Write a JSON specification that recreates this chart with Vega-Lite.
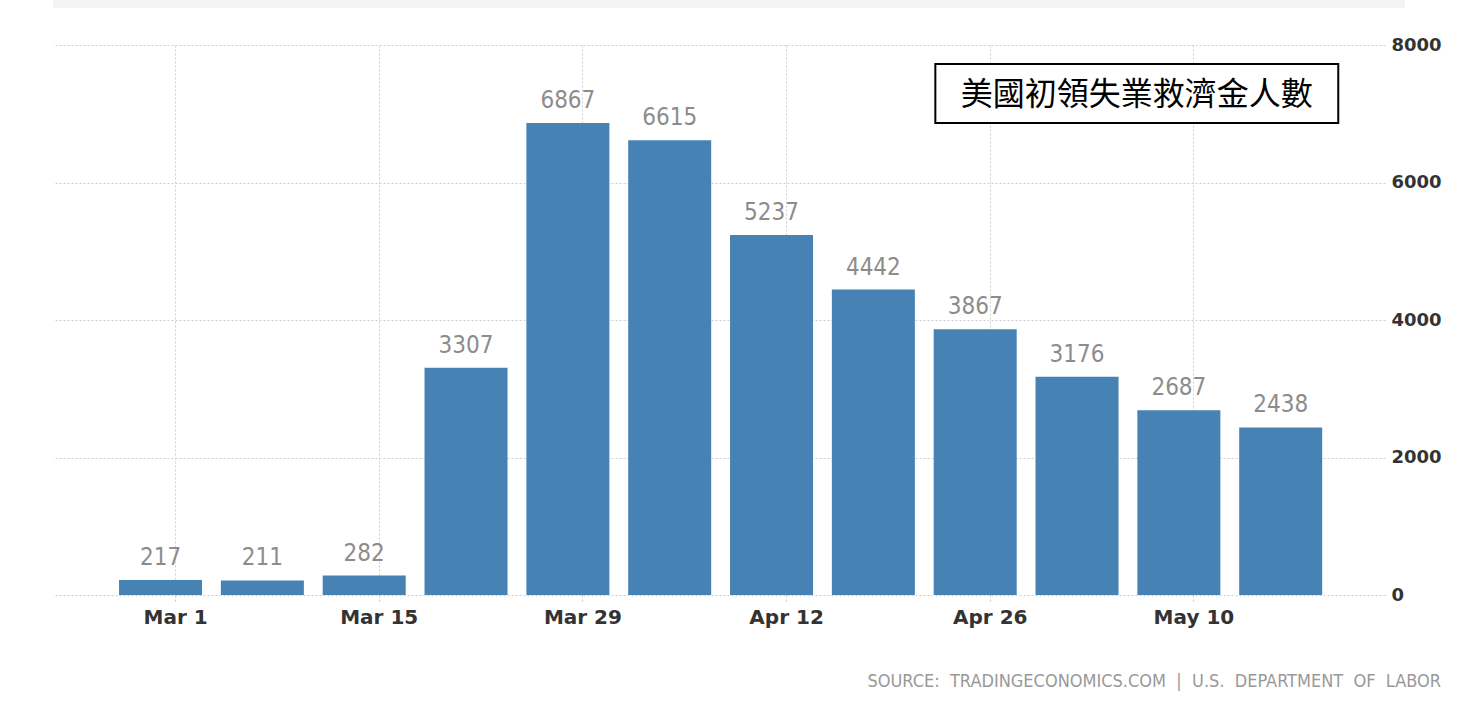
{
  "$schema": "https://vega.github.io/schema/vega-lite/v6.json",
  "width": 1332,
  "height": 550,
  "autosize": {"type": "none"},
  "padding": {"left": 53, "top": 45, "right": 77, "bottom": 114},
  "background": "white",
  "config": {"view": {"stroke": null}},
  "title": {
    "text": "SOURCE:\u00a0 TRADINGECONOMICS.COM\u00a0 |\u00a0 U.S.\u00a0 DEPARTMENT\u00a0 OF\u00a0 LABOR",
    "orient": "bottom",
    "anchor": "end",
    "frame": "bounds",
    "font": "DejaVu Sans Condensed",
    "fontSize": 18,
    "fontWeight": "normal",
    "color": "#999999",
    "offset": 46
  },
  "datasets": {
    "claims": [
      {"week": "2020-02-29T00:00:00Z", "claims": 217},
      {"week": "2020-03-07T00:00:00Z", "claims": 211},
      {"week": "2020-03-14T00:00:00Z", "claims": 282},
      {"week": "2020-03-21T00:00:00Z", "claims": 3307},
      {"week": "2020-03-28T00:00:00Z", "claims": 6867},
      {"week": "2020-04-04T00:00:00Z", "claims": 6615},
      {"week": "2020-04-11T00:00:00Z", "claims": 5237},
      {"week": "2020-04-18T00:00:00Z", "claims": 4442},
      {"week": "2020-04-25T00:00:00Z", "claims": 3867},
      {"week": "2020-05-02T00:00:00Z", "claims": 3176},
      {"week": "2020-05-09T00:00:00Z", "claims": 2687},
      {"week": "2020-05-16T00:00:00Z", "claims": 2438}
    ],
    "box": [
      {"bx": "2020-04-22T06:15:00Z", "bx2": "2020-05-19T23:00:00Z", "by": 7724, "by2": 6865, "lx": "2020-05-06T02:40:00Z", "ly": 7280, "label": "美國初領失業救濟金人數"}
    ],
    "band": [
      {"gx": "2020-02-21T14:35:00Z", "gx2": "2020-05-24T12:45:00Z", "gy": 8655, "gy2": 8538}
    ]
  },
  "layer": [
    {
      "data": {"name": "claims"},
      "mark": {"type": "bar", "width": 83, "color": "#4682b4"},
      "encoding": {
        "x": {
          "field": "week",
          "type": "temporal",
          "scale": {
            "type": "utc",
            "domain": [1582325400000, 1590177000000]
          },
          "axis": {
            "title": null,
            "values": [1583020800000, 1584230400000, 1585440000000, 1586649600000, 1587859200000, 1589068800000],
            "format": "%b %-d",
            "grid": true,
            "gridColor": "#cfcfcf",
            "gridDash": [2, 2],
            "domain": false,
            "ticks": true,
            "tickSize": 8,
            "tickColor": "#c8c8c8",
            "tickDash": [2, 2],
            "labelFont": "DejaVu Sans",
            "labelFontSize": 20,
            "labelFontWeight": "bold",
            "labelColor": "#333333",
            "labelPadding": 4
          }
        },
        "y": {
          "field": "claims",
          "type": "quantitative",
          "scale": {"domain": [0, 8000], "nice": false},
          "axis": {
            "title": null,
            "orient": "right",
            "values": [0, 2000, 4000, 6000, 8000],
            "format": "d",
            "grid": true,
            "gridColor": "#cfcfcf",
            "gridDash": [2, 2],
            "domain": false,
            "ticks": false,
            "labelFont": "DejaVu Sans",
            "labelFontSize": 18,
            "labelFontWeight": "bold",
            "labelColor": "#333333",
            "labelPadding": 6
          }
        }
      }
    },
    {
      "data": {"name": "claims"},
      "mark": {
        "type": "text",
        "dy": -15,
        "baseline": "alphabetic",
        "font": "DejaVu Sans Condensed",
        "fontSize": 24,
        "color": "#8c8c8c"
      },
      "encoding": {
        "x": {"field": "week", "type": "temporal", "axis": {"title": null}},
        "y": {"field": "claims", "type": "quantitative", "axis": {"title": null}},
        "text": {"field": "claims", "type": "quantitative", "format": "d"}
      }
    },
    {
      "data": {"name": "band"},
      "mark": {"type": "rect", "fill": "#f3f3f3", "clip": false},
      "encoding": {
        "x": {"field": "gx", "type": "temporal", "axis": {"title": null}},
        "x2": {"field": "gx2"},
        "y": {"field": "gy", "type": "quantitative", "axis": {"title": null}},
        "y2": {"field": "gy2"}
      }
    },
    {
      "data": {"name": "box"},
      "mark": {"type": "rect", "fill": "white", "stroke": "black", "strokeWidth": 2},
      "encoding": {
        "x": {"field": "bx", "type": "temporal", "axis": {"title": null}},
        "x2": {"field": "bx2"},
        "y": {"field": "by", "type": "quantitative", "axis": {"title": null}},
        "y2": {"field": "by2"}
      }
    },
    {
      "data": {"name": "box"},
      "mark": {
        "type": "text",
        "font": "Noto Sans CJK TC",
        "fontSize": 32,
        "color": "black",
        "align": "center",
        "baseline": "middle"
      },
      "encoding": {
        "x": {"field": "lx", "type": "temporal", "axis": {"title": null}},
        "y": {"field": "ly", "type": "quantitative", "axis": {"title": null}},
        "text": {"field": "label"}
      }
    }
  ]
}
